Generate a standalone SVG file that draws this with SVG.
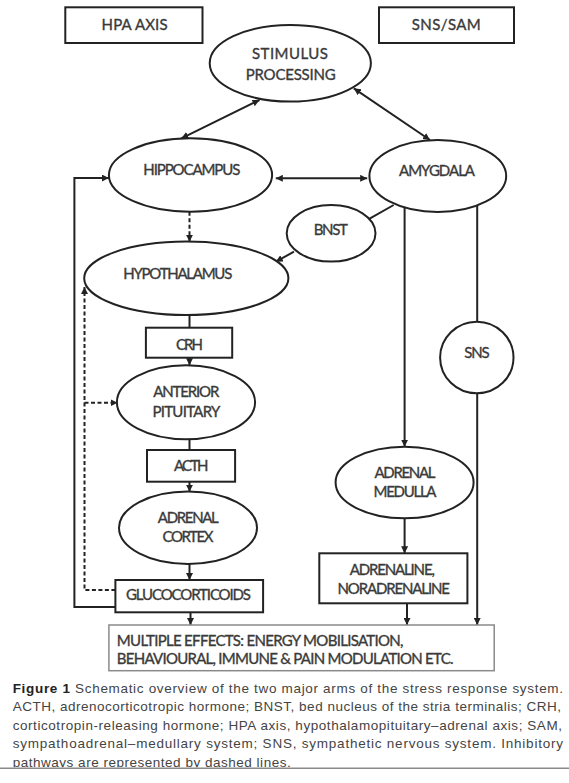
<svg xmlns="http://www.w3.org/2000/svg" width="569" height="783" viewBox="0 0 569 783">
<style>
.n{fill:#fff;stroke:#222;stroke-width:2}
.t{font-family:Lato,"Liberation Sans",Arial,sans-serif;font-size:15px;fill:#3a3a3a;stroke:#3a3a3a;stroke-width:0.35;text-anchor:middle}
.tl{font-family:Lato,"Liberation Sans",Arial,sans-serif;font-size:15px;fill:#3a3a3a;stroke:#3a3a3a;stroke-width:0.35}
.c{fill:none;stroke:#222;stroke-width:2}
.d{fill:none;stroke:#222;stroke-width:2;stroke-dasharray:4 2.5}
.cap{font-family:"Liberation Sans",Arial,sans-serif;font-size:13.5px;fill:#444}
</style>
<defs>
<marker id="ah" viewBox="0 0 10 10" refX="10" refY="5" markerWidth="7" markerHeight="7" markerUnits="userSpaceOnUse" orient="auto-start-reverse">
<path d="M0,0 L10,5 L0,10 z" fill="#222"/>
</marker>
</defs>
<rect width="569" height="783" fill="#fff"/>

<g id="connectors">
<line class="c" x1="259.5" y1="100" x2="181.4" y2="138.3" marker-start="url(#ah)" marker-end="url(#ah)"/>
<line class="c" x1="353.8" y1="88.3" x2="430" y2="140" marker-start="url(#ah)" marker-end="url(#ah)"/>
<line class="c" x1="275.8" y1="178.3" x2="367.2" y2="178.3" marker-start="url(#ah)" marker-end="url(#ah)"/>
<polyline class="c" points="115.4,607 74.4,607 74.4,178 108.9,178" marker-end="url(#ah)"/>
<line class="d" x1="189.5" y1="211.7" x2="189.5" y2="241.7" marker-end="url(#ah)"/>
<line class="c" x1="393.7" y1="205" x2="368.3" y2="219.3"/>
<line class="c" x1="294" y1="251.7" x2="275.8" y2="261.7" marker-end="url(#ah)"/>
<line class="c" x1="404.6" y1="207.5" x2="404.6" y2="446.7" marker-end="url(#ah)"/>
<line class="c" x1="477.2" y1="205.4" x2="477.2" y2="321.7"/>
<line class="c" x1="477.2" y1="393.3" x2="477.2" y2="625" marker-end="url(#ah)"/>
<line class="c" x1="189.5" y1="315" x2="189.5" y2="327.7"/>
<line class="c" x1="189.5" y1="357.7" x2="189.5" y2="365.2" marker-end="url(#ah)"/>
<line class="c" x1="189.5" y1="439.3" x2="189.5" y2="450"/>
<line class="c" x1="189.5" y1="481.7" x2="189.5" y2="491.7" marker-end="url(#ah)"/>
<line class="c" x1="189.5" y1="564" x2="189.5" y2="580" marker-end="url(#ah)"/>
<line class="c" x1="190.5" y1="612.3" x2="190.5" y2="625" marker-end="url(#ah)"/>
<line class="c" x1="404.6" y1="518.3" x2="404.6" y2="553.3" marker-end="url(#ah)"/>
<line class="c" x1="407" y1="603.3" x2="407" y2="625" marker-end="url(#ah)"/>
<polyline class="d" points="115.4,590 84.5,590 84.5,287" marker-end="url(#ah)"/>
<line class="d" x1="84.5" y1="402.7" x2="117.5" y2="402.7" marker-end="url(#ah)"/>
</g>

<g id="hpa-axis">
<rect class="n" x="65.3" y="7.3" width="137.2" height="35.7"/>
<text class="t" x="134.6" y="29.5" textLength="66">HPA AXIS</text>
</g>
<g id="sns-sam">
<rect class="n" x="379" y="7.3" width="135" height="35.7"/>
<text class="t" x="446.3" y="29.5" textLength="69">SNS/SAM</text>
</g>
<g id="stimulus-processing">
<ellipse class="n" cx="290.3" cy="63.3" rx="80.6" ry="38.3"/>
<text class="t" x="290" y="58.5" textLength="76">STIMULUS</text>
<text class="t" x="290.7" y="80.2" textLength="90">PROCESSING</text>
</g>
<g id="hippocampus">
<ellipse class="n" cx="190.5" cy="175" rx="81.6" ry="36.7"/>
<text class="t" x="191.8" y="174.5" textLength="97">HIPPOCAMPUS</text>
</g>
<g id="amygdala">
<ellipse class="n" cx="437.8" cy="176" rx="68.4" ry="36"/>
<text class="t" x="437" y="176.2" textLength="76">AMYGDALA</text>
</g>
<g id="bnst">
<ellipse class="n" cx="331.1" cy="233.3" rx="44.4" ry="28.3"/>
<text class="t" x="330.8" y="235.2" textLength="34">BNST</text>
</g>
<g id="hypothalamus">
<ellipse class="n" cx="186.3" cy="278.3" rx="102.1" ry="36.7"/>
<text class="t" x="177.8" y="279.2" textLength="109">HYPOTHALAMUS</text>
</g>
<g id="sns">
<ellipse class="n" cx="476.8" cy="357.5" rx="36.7" ry="35.8"/>
<text class="t" x="477" y="357.9" textLength="25.5">SNS</text>
</g>
<g id="crh">
<rect class="n" x="145.9" y="327.7" width="86.3" height="30"/>
<text class="t" x="189.5" y="349.5" textLength="27">CRH</text>
</g>
<g id="anterior-pituitary">
<ellipse class="n" cx="186" cy="402.3" rx="69.1" ry="37"/>
<text class="t" x="186.3" y="396.9" textLength="66">ANTERIOR</text>
<text class="t" x="186.4" y="416.9" textLength="68">PITUITARY</text>
</g>
<g id="acth">
<rect class="n" x="147" y="450" width="88.1" height="31.7"/>
<text class="t" x="191.3" y="471.2" textLength="34.5">ACTH</text>
</g>
<g id="adrenal-cortex">
<ellipse class="n" cx="188" cy="527.8" rx="69" ry="36.2"/>
<text class="t" x="188.3" y="522.5" textLength="61">ADRENAL</text>
<text class="t" x="188" y="541.9" textLength="51">CORTEX</text>
</g>
<g id="glucocorticoids">
<rect class="n" x="115.4" y="580" width="147.7" height="32.3"/>
<text class="t" x="188.5" y="599.8" textLength="125">GLUCOCORTICOIDS</text>
</g>
<g id="adrenal-medulla">
<ellipse class="n" cx="404.6" cy="482.5" rx="69" ry="35.8"/>
<text class="t" x="405" y="477.9" textLength="61">ADRENAL</text>
<text class="t" x="405" y="496.9" textLength="63">MEDULLA</text>
</g>
<g id="adrenaline">
<rect class="n" x="319.3" y="553.3" width="148.1" height="50"/>
<text class="t" x="392.3" y="574.5" textLength="85">ADRENALINE,</text>
<text class="t" x="393.7" y="593.5" textLength="112.5">NORADRENALINE</text>
</g>
<g id="effects">
<rect x="108.9" y="625" width="385.3" height="45.7" fill="#fff" stroke="#8a8a8a" stroke-width="1.5"/>
<text class="tl" x="116.8" y="646.2" textLength="286.7">MULTIPLE EFFECTS: ENERGY MOBILISATION,</text>
<text class="tl" x="116.8" y="664.2" textLength="336.7">BEHAVIOURAL, IMMUNE &amp; PAIN MODULATION ETC.</text>
</g>

<g id="caption">
<text class="cap" x="12.7" y="692.6" textLength="550.3"><tspan font-weight="bold" fill="#222">Figure 1</tspan> Schematic overview of the two major arms of the stress response system.</text>
<text class="cap" x="12.7" y="711.2" textLength="548.3">ACTH, adrenocorticotropic hormone; BNST, bed nucleus of the stria terminalis; CRH,</text>
<text class="cap" x="12.7" y="729.7" textLength="549.3">corticotropin-releasing hormone; HPA axis, hypothalamopituitary–adrenal axis; SAM,</text>
<text class="cap" x="12.7" y="748.2" textLength="550.3">sympathoadrenal–medullary system; SNS, sympathetic nervous system. Inhibitory</text>
<text class="cap" x="12.7" y="766.8" textLength="278">pathways are represented by dashed lines.</text>
<rect x="0" y="767.3" width="569" height="16" fill="#fff"/>
<line x1="0" y1="768.3" x2="569" y2="768.3" stroke="#8a8a8a" stroke-width="1.5"/>
</g>
</svg>
